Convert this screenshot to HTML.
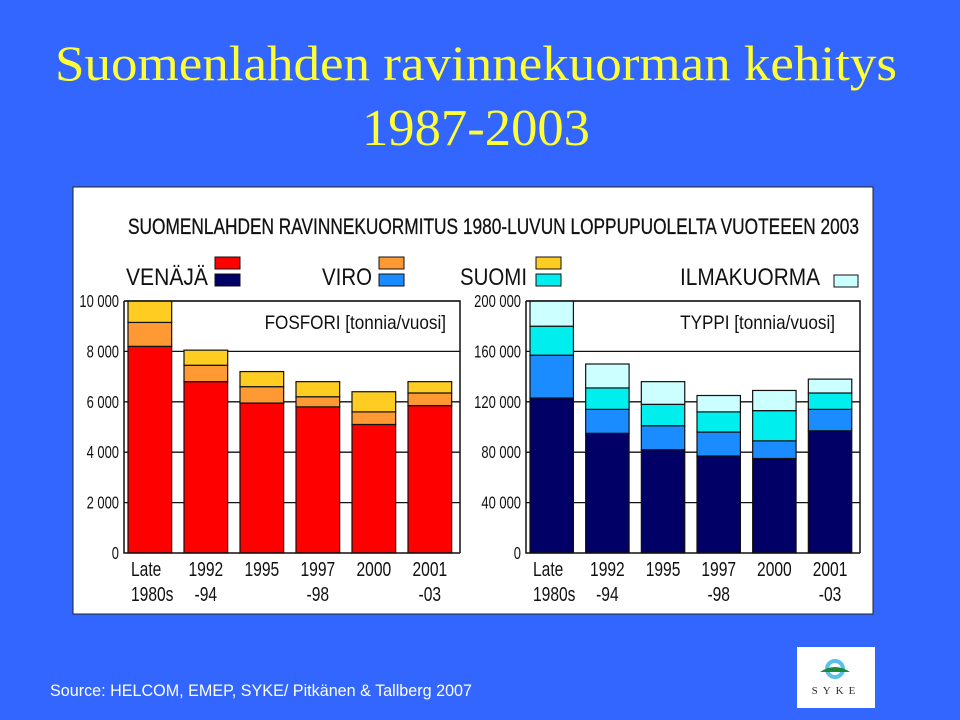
<!DOCTYPE html>
<html><head><meta charset="utf-8"><style>
html,body{margin:0;padding:0;background:#3366ff;width:960px;height:720px;overflow:hidden}
svg{display:block}
</style></head><body>
<svg width="960" height="720" viewBox="0 0 960 720" font-family="Liberation Sans, sans-serif">
<rect x="0" y="0" width="960" height="720" fill="#3366ff"/>
<text x="476" y="80" text-anchor="middle" font-family="Liberation Serif, serif" font-size="50" textLength="842" lengthAdjust="spacingAndGlyphs" fill="#ffff33">Suomenlahden ravinnekuorman kehitys</text>
<text x="476" y="145" text-anchor="middle" font-family="Liberation Serif, serif" font-size="52" textLength="228" lengthAdjust="spacingAndGlyphs" fill="#ffff33">1987-2003</text>
<rect x="73" y="187" width="800" height="427" fill="#fff" stroke="#222" stroke-width="1"/>
<text x="128" y="234" font-size="22" textLength="731" lengthAdjust="spacingAndGlyphs" fill="#111" stroke="#111" stroke-width="0.3">SUOMENLAHDEN RAVINNEKUORMITUS  1980-LUVUN LOPPUPUOLELTA VUOTEEEN 2003</text>
<g id="legend">
<text x="126" y="285" font-size="24" textLength="82" lengthAdjust="spacingAndGlyphs" fill="#111">VENÄJÄ</text>
<rect x="215" y="257" width="25" height="12" fill="#ff0000" stroke="#111"/>
<rect x="215" y="274" width="25" height="12" fill="#000066" stroke="#111"/>
<text x="322" y="285" font-size="24" textLength="50" lengthAdjust="spacingAndGlyphs" fill="#111">VIRO</text>
<rect x="379" y="257" width="25" height="12" fill="#ff9933" stroke="#111"/>
<rect x="379" y="274" width="25" height="12" fill="#1a8cff" stroke="#111"/>
<text x="460" y="285" font-size="24" textLength="67" lengthAdjust="spacingAndGlyphs" fill="#111">SUOMI</text>
<rect x="536" y="257" width="25" height="12" fill="#ffcc22" stroke="#111"/>
<rect x="536" y="274" width="25" height="12" fill="#00eeee" stroke="#111"/>
<text x="680" y="285" font-size="24" textLength="140" lengthAdjust="spacingAndGlyphs" fill="#111">ILMAKUORMA</text>
<rect x="834" y="275" width="24" height="12" fill="#ccffff" stroke="#111"/>
</g>
<g id="left"></g>
<g id="right"></g>
<text x="50" y="696" font-size="17" textLength="422" lengthAdjust="spacingAndGlyphs" fill="#fff">Source: HELCOM, EMEP, SYKE/ Pitkänen &amp; Tallberg 2007</text>
<g>
<rect x="797" y="647" width="78" height="61" fill="#fff"/>
<circle cx="835" cy="669" r="8" fill="none" stroke="#5bc0eb" stroke-width="4"/>
<path d="M820 672 Q835 662 850 672 Z" fill="#1a8a3a"/>
<text x="836" y="694" text-anchor="middle" font-family="Liberation Serif, serif" font-size="11" letter-spacing="5" fill="#333">SYKE</text>
</g>
</svg>
<script>
const categories = [["Late","1980s"],["1992","-94"],["1995",""],["1997","-98"],["2000",""],["2001","-03"]];
const pRussia = [8200,6800,5950,5800,5100,5850];
const pEstonia = [950,650,650,400,500,500];
const pFinland = [850,600,600,600,800,450];
const pTicks = [0,2000,4000,6000,8000,10000];
const pTickLabels = ["0","2 000","4 000","6 000","8 000","10 000"];
const nRussia = [123000,95000,82000,77000,75000,97000];
const nEstonia = [34000,19000,19000,19000,14000,17000];
const nFinland = [23000,17000,17000,16000,24000,13000];
const nAir = [20000,19000,18000,13000,16000,11000];
const nTicks = [0,40000,80000,120000,160000,200000];
const nTickLabels = ["0","40 000","80 000","120 000","160 000","200 000"];
const NS='http://www.w3.org/2000/svg';
function mk(parent,tag,attrs){const e=document.createElementNS(NS,tag);for(const k in attrs)e.setAttribute(k,attrs[k]);parent.appendChild(e);return e;}
function cond(x,s){return `translate(${x},0) scale(${s},1) translate(${-x},0)`;}
function drawChart(g,cfg){
  const {x0,x1,y0,y1,max,series,colors,ticks,tickLabels,note,noteX,prefix}=cfg;
  const y=v=>y0-(v/max)*(y0-y1);
  const step=(x1-x0)/categories.length, bw=step*0.78;
  const bx=i=>x0+4+i*step;
  ticks.forEach((t,i)=>{
    if(t>0){const l=mk(g,'line',{x1:x0,x2:x1,y1:y(t),y2:y(t),stroke:'#111','stroke-width':1.3});
      
      }
    const tx=mk(g,'text',{x:x0-5,y:y(t)+6,'text-anchor':'end','font-size':18,fill:'#111',transform:cond(x0-5,0.72)});
    tx.textContent=tickLabels[i];
    
    
  });
  const nt=mk(g,'text',{x:noteX,y:y1+28,'text-anchor':'end','font-size':19,fill:'#111',transform:cond(noteX,0.9)});
  nt.textContent=note;
  
  
  categories.forEach((c,i)=>{
    let acc=0;
    series.forEach((s,j)=>{
      const v=s[i];
      const r=mk(g,'rect',{x:bx(i),y:y(acc+v),width:bw,height:y(acc)-y(acc+v),fill:colors[j],stroke:'#111','stroke-width':1.2});
      
      
      acc+=v;
    });
    c.forEach((line,k)=>{
      const lx = i==0 ? bx(i)+3 : bx(i)+bw/2;
      const t=mk(g,'text',{x:lx,y:y0+23+k*25,'text-anchor':(i==0?'start':'middle'),'font-size':20,fill:'#111',transform:cond(lx,0.78)});
      t.textContent=line;
      
      
    });
  });
  const ax=mk(g,'path',{d:`M${x0} ${y1} V${y0} H${x1}`,fill:'none',stroke:'#111','stroke-width':1.5});
  
  
  const rb=mk(g,'path',{d:`M${x0} ${y1} H${x1} V${y0}`,fill:'none',stroke:'#111','stroke-width':1.5});
  
  
}
drawChart(document.getElementById('left'),{x0:124,x1:460,y0:553,y1:301,max:10000,series:[pRussia,pEstonia,pFinland],colors:['#ff0000','#ff9933','#ffcc22'],ticks:pTicks,tickLabels:pTickLabels,note:'FOSFORI [tonnia/vuosi]',noteX:446,prefix:'p'});
drawChart(document.getElementById('right'),{x0:526,x1:860,y0:553,y1:301,max:200000,series:[nRussia,nEstonia,nFinland,nAir],colors:['#000066','#1a8cff','#00eeee','#ccffff'],ticks:nTicks,tickLabels:nTickLabels,note:'TYPPI [tonnia/vuosi]',noteX:835,prefix:'n'});
</script>
</body></html>
